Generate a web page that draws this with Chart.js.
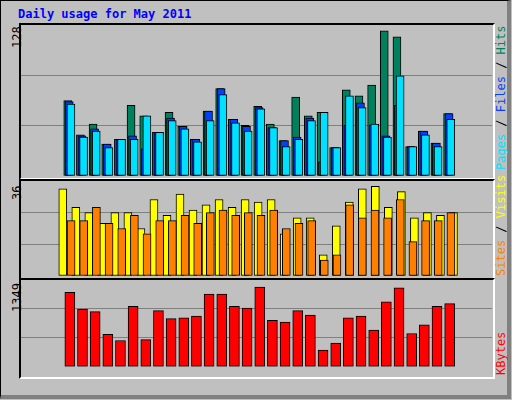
<!DOCTYPE html>
<html>
<head>
<meta charset="utf-8">
<script src="https://cdn.jsdelivr.net/npm/chart.js@4"></script>
<style>
  body { margin: 0; background: #C0C0C0; }
  #frame { position: absolute; left: 0; top: 0; width: 506px; height: 394px; background: #C0C0C0;
    border: 1px solid #000; border-right: 4px solid #808080; border-bottom: 4px solid #808080; box-sizing: content-box; }
  #title { position: absolute; left: 18px; top: 7px; font: bold 12px "DejaVu Sans Mono", monospace; color: #0000FF; }
  .box { position: absolute; left: 19px; width: 472px; border-top: 2px solid #000; border-left: 2px solid #000;
    border-right: 2px solid #fff; border-bottom: 2px solid #fff; }
  .rot { position: absolute; transform-origin: 0 0; transform: rotate(-90deg); white-space: nowrap;
    font: 12px "DejaVu Sans Mono", monospace; }
  canvas { position: absolute; }
</style>
</head>
<body>
<div id="frame"></div>
<div id="title">Daily usage for May 2011</div>
<div class="box" style="top:23px;height:153px"></div>
<div class="box" style="top:179px;height:97px"></div>
<div class="box" style="top:278px;height:97px"></div>
<div class="rot" style="left:10px;top:48px;color:#000">128</div>
<div class="rot" style="left:10px;top:200px;color:#000">36</div>
<div class="rot" style="left:10px;top:312px;color:#000">1349</div>
<div class="rot" style="left:494px;top:170px"><span style="color:#00E0FF">Pages</span> / <span style="color:#0040FF">Files</span> / <span style="color:#00805C">Hits</span></div>
<div class="rot" style="left:494px;top:276px"><span style="color:#FF8000">Sites</span> / <span style="color:#FFFF00">Visits</span></div>
<div class="rot" style="left:494px;top:375px;color:#FF0000">KBytes</div>
<canvas id="c1" style="left:21px;top:25px;width:471px;height:151px"></canvas>
<canvas id="c2" style="left:21px;top:181px;width:471px;height:95px"></canvas>
<canvas id="c3" style="left:21px;top:280px;width:471px;height:116px"></canvas>
<script>
var days = [1,2,3,4,5,6,7,8,9,10,11,12,13,14,15,16,17,18,19,20,21,22,23,24,25,26,27,28,29,30,31];
var weekends = [7,8,14,15,21,22,28,29];
var hits = [64,35,44,27,31,60,51,37,54,42,31,55,74,48,43,59,44,30,67,51,54,24,73,68,77,123,118,25,38,28,53];
var files = [63,34,40,27,31,34,23,37,49,42,31,55,74,48,42,58,41,30,33,49,12,24,43,62,43,34,60,25,38,28,53];
var pages = [61,33,38,24,31,31,51,37,47,40,29,47,69,45,38,57,41,25,31,47,54,24,68,58,44,33,85,25,35,25,48];
var visits = [33,26,24,20,24,24,18,29,23,31,25,27,29,26,29,28,29,16,22,22,8,19,28,33,34,26,32,22,24,23,24];
var sites = [21,21,26,20,18,23,16,21,21,23,20,24,25,23,24,23,25,18,20,21,6,8,27,22,25,22,29,13,21,21,24];
var kbytes = [1158,898,858,503,409,940,422,872,749,763,790,1131,1131,940,912,1240,722,695,872,804,258,368,763,790,572,1008,1226,517,654,940,981];

Chart.defaults.animation = false;
Chart.defaults.font.family = "DejaVu Sans";

function pts(vals) { return days.map(function (d, i) { return { x: d, y: vals[i] }; }); }
function xAxis(shiftPx) {
    var min = 0.5 - shiftPx / 15.2;
    return { type: 'linear', min: min, max: min + 31, display: false };
}
// visible day labels, unshifted
var dayAxis = {
    type: 'linear', min: 0.5, max: 31.5, display: true, position: 'bottom',
    grid: { display: false }, border: { display: false },
    ticks: {
        stepSize: 1, autoSkip: false, maxRotation: 0, padding: 4, includeBounds: false,
        font: { size: 11 },
        color: function (c) { return weekends.indexOf(Math.round(c.tick.value)) >= 0 ? '#008040' : '#000'; },
        callback: function (v) { var d = Math.round(v); return Math.abs(v - d) < 0.01 && days.indexOf(d) >= 0 ? String(d) : ''; }
    }
};
function yAxis(max) {
    return {
        min: 0, max: max, display: true,
        afterFit: function (s) { s.width = 0; },
        ticks: { display: false, stepSize: max / 3 },
        border: { display: false },
        grid: { color: function (c) { return c.tick.value > 0 && c.tick.value < max - 1 ? '#808080' : 'rgba(0,0,0,0)'; }, lineWidth: 1, drawTicks: false }
    };
}
function bar(label, vals, color, axis, w, order) {
    return { label: label, data: pts(vals), backgroundColor: color, borderColor: '#000', borderWidth: 1,
        borderSkipped: false, barThickness: w, xAxisID: axis, grouped: false, order: order };
}
function make(id, datasets, scales) {
    new Chart(document.getElementById(id), {
        type: 'bar',
        data: { datasets: datasets },
        options: {
            responsive: false, maintainAspectRatio: false,
            layout: { padding: 0 },
            plugins: { legend: { display: false }, tooltip: { enabled: false } },
            scales: scales
        }
    });
}
function size(id) { var c = document.getElementById(id); c.width = parseInt(c.style.width); c.height = parseInt(c.style.height); }
['c1', 'c2', 'c3'].forEach(size);

make('c1', [bar('Hits', hits, '#00805C', 'xh', 8, 3), bar('Files', files, '#0040FF', 'xf', 8, 2), bar('Pages', pages, '#00E0FF', 'xp', 8, 1)],
    { xh: xAxis(1.4), xf: xAxis(3.2), xp: xAxis(5.2), y: yAxis(128) });
make('c2', [bar('Visits', visits, '#FFFF00', 'xv', 8, 2), bar('Sites', sites, '#FF8000', 'xs', 8, 1)],
    { xv: xAxis(1.9), xs: xAxis(5.4), y: yAxis(36) });
make('c3', [bar('KBytes', kbytes, '#FF0000', 'xk', 10, 1)],
    { xk: xAxis(3.9), x: dayAxis, y: yAxis(1349) });
</script>
</body>
</html>
